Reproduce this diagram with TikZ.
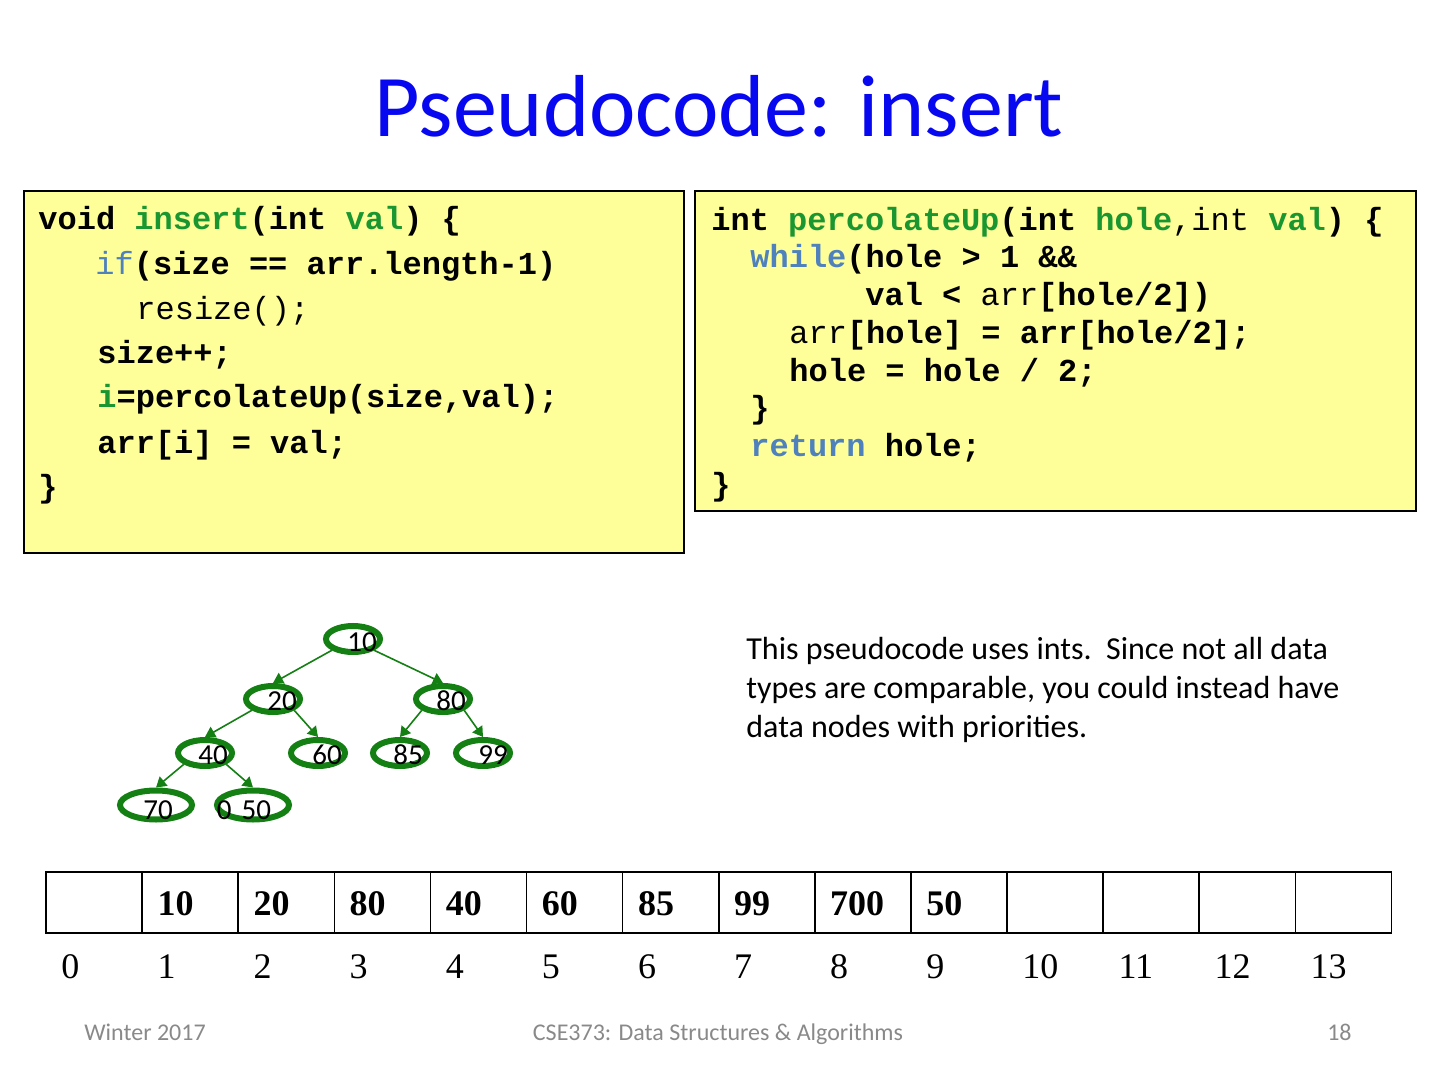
\documentclass[tikz,border=0pt]{standalone}
\usepackage{fontspec}
\setmainfont{Carlito}
\setmonofont{Liberation Mono}
\newfontfamily\arrfont{Liberation Serif}
\usetikzlibrary{shapes.geometric,arrows.meta}
\definecolor{codegreen}{RGB}{26,150,48}
\definecolor{codeblue}{RGB}{79,129,189}
\definecolor{codebg}{RGB}{255,255,153}
\definecolor{treegreen}{RGB}{20,128,20}
\definecolor{titleblue}{RGB}{8,8,240}
\definecolor{footgray}{RGB}{137,137,137}
\newcommand{\kg}[1]{\textcolor{codegreen}{#1}}
\newcommand{\kb}[1]{\textcolor{codeblue}{#1}}
\begin{document}
\begin{tikzpicture}[x=0.5pt,y=-0.5pt,
  codebox/.style={draw=black,line width=1pt,fill=codebg,rectangle,outer sep=0pt,inner sep=0pt,anchor=north west},
  codeline/.style={anchor=base west,inner sep=0pt,font=\ttfamily\bfseries\fontsize{16pt}{19pt}\selectfont},
  heapnode/.style={ellipse,draw=treegreen,line width=3pt,minimum width=27pt,minimum height=13pt,inner sep=0pt},
  bignode/.style={heapnode,minimum width=36pt,minimum height=14.5pt},
  heaptext/.style={inner sep=0pt,font=\fontsize{14.5pt}{16pt}\selectfont},
  heapedge/.style={draw=treegreen,line width=0.8pt,-{Triangle[length=5pt,width=6pt]},fill=treegreen},
  cell/.style={draw=black,line width=0.8pt,rectangle,minimum width=48.05pt,minimum height=30.5pt,anchor=north west,outer sep=0pt,inner sep=0pt},
  cellval/.style={anchor=base west,inner sep=0pt,font=\arrfont\bfseries\fontsize{18pt}{21pt}\selectfont},
  cellidx/.style={anchor=base west,inner sep=0pt,font=\arrfont\fontsize{18pt}{21pt}\selectfont},
  para/.style={anchor=base west,inner sep=0pt,font=\fontsize{16pt}{19.5pt}\selectfont},
  foot/.style={anchor=base,inner sep=0pt,text=footgray,font=\fontsize{12pt}{14pt}\selectfont}]
\useasboundingbox (0,0) rectangle (1440,1080);

% title
\node[anchor=base,inner sep=0pt,text=titleblue,font=\fontsize{44pt}{52pt}\selectfont] (title) at (719,137) {Pseudocode: insert};

% left code box
\node[codebox,minimum width=330pt,minimum height=181pt] (lbox) at (24,191) {};
\node[codeline] (l1) at (38,230) {void \kg{insert}(int \kg{val}) \{};
\node[codeline] (l2) at (95,275) {\kb{\mdseries if}(size == arr.length-1)};
\node[codeline] (l3) at (136,320) {\mdseries resize();};
\node[codeline] (l4) at (97,364) {size++;};
\node[codeline] (l5) at (97,408) {\kg{i}=percolateUp(size,val);};
\node[codeline] (l6) at (97,453) {arr[i] = val;};
\node[codeline] (l7) at (38,497) {\}};

% right code box
\node[codebox,minimum width=360.5pt,minimum height=160pt] (rbox) at (695,191) {};
\node[codeline] (r1) at (711,231) {int \kg{percolateUp}(int \kg{hole}{\mdseries,int }\kg{val}) \{};
\node[codeline] (r2) at (750,268) {\kb{while}(hole > 1 \&\&};
\node[codeline] (r3) at (865,306) {val < {\mdseries arr}[hole/2])};
\node[codeline] (r4) at (789,344) {{\mdseries arr}[hole] = arr[hole/2];};
\node[codeline] (r5) at (789,382) {hole = hole / 2;};
\node[codeline] (r6) at (750,419) {\}};
\node[codeline] (r7) at (750,457) {\kb{return} hole;};
\node[codeline] (r8) at (711,495) {\}};

% heap tree
\node[heapnode] (n10) at (353,639) {};
\node[heapnode] (n20) at (273,699) {};
\node[heapnode] (n80) at (443,699) {};
\node[heapnode] (n40) at (205,753) {};
\node[heapnode] (n60) at (318,753) {};
\node[heapnode] (n85) at (400,753) {};
\node[heapnode] (n99) at (483,753) {};
\node[bignode] (n70) at (156,805) {};
\node[bignode] (n50) at (253,805) {};

\node[heaptext] (t10) at (362,642) {10};
\node[heaptext] (t20) at (282,701) {20};
\node[heaptext] (t80) at (451,701) {80};
\node[heaptext] (t40) at (213,755) {40};
\node[heaptext] (t60) at (327,755) {60};
\node[heaptext] (t85) at (408,755) {85};
\node[heaptext] (t99) at (493,755) {99};
\node[heaptext] (t70) at (158,810) {70};
\node[heaptext] (t50) at (244,810) {0\hspace{5pt}50};

\draw[heapedge] (n10.south west) -- (n20.north);
\draw[heapedge] (n10.south east) -- (n80.north);
\draw[heapedge] (n20.south west) -- (n40.north);
\draw[heapedge] (n20.south east) -- (n60.north);
\draw[heapedge] (n80.south west) -- (n85.north);
\draw[heapedge] (n80.south east) -- (n99.north);
\draw[heapedge] (n40.south west) -- (n70.north);
\draw[heapedge] (n40.south east) -- (n50.north);

% note
\node[para] (p1) at (746,659) {This pseudocode uses ints.\ \ Since not all data};
\node[para] (p2) at (746,698) {types are comparable, you could instead have};
\node[para] (p3) at (746,737) {data nodes with priorities.};

% array
\foreach \i/\v in {0/,1/10,2/20,3/80,4/40,5/60,6/85,7/99,8/700,9/50,10/,11/,12/,13/}{
  \node[cell] (c\i) at ({46+96.1*\i},872) {};
  \node[cellval] (v\i) at ({61+96.1*\i},915) {\v};
  \node[cellidx] (x\i) at ({61+96.1*\i},978) {\i};
}

% footer
\node[foot] (f1) at (145,1040) {Winter 2017};
\node[foot] (f2) at (718,1040) {CSE373: Data Structures \& Algorithms};
\node[foot,anchor=base east] (f3) at (1352,1040) {18};
\end{tikzpicture}
\end{document}
